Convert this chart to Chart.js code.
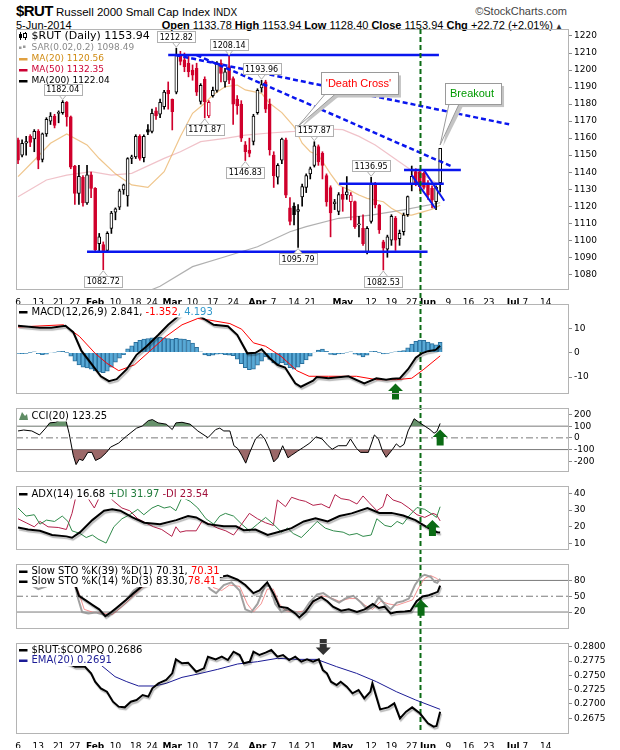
<!DOCTYPE html>
<html>
<head>
<meta charset="utf-8">
<script src="https://cdn.jsdelivr.net/npm/chart.js"></script>
<style>
  body { margin: 0; background: #fff; width: 620px; height: 750px; overflow: hidden; font-family: Arial, 'Liberation Sans', sans-serif; }
  .panel { position: absolute; left: 0; top: 0; }
  .hdr { position: absolute; white-space: nowrap; color: #000; }
</style>
</head>
<body>
<div class="hdr" style="left:16px;top:3px;font-size:11.5px;line-height:16px">
  <b style="font-size:15px;letter-spacing:-0.6px">$RUT</b> Russell 2000 Small Cap Index <span style="font-size:10px">INDX</span>
</div>
<div class="hdr" style="right:53px;top:4px;font-size:11px;line-height:14px;color:#444">&copy;StockCharts.com</div>
<div class="hdr" style="left:16px;top:18px;font-size:11px;line-height:14px">5-Jun-2014</div>
<div class="hdr" style="right:57px;top:18px;font-size:11px;line-height:14px"><b>Open</b> 1133.78 <b>High</b> 1153.94 <b>Low</b> 1128.40 <b>Close</b> 1153.94 <b>Chg</b> +22.72 (+2.01%)<span style="font-size:8px;color:#333"> &#9650;</span></div>

<canvas id="cMain" class="panel" width="620" height="750"></canvas>
<canvas id="cMacd" class="panel" width="620" height="750"></canvas>
<canvas id="cCci" class="panel" width="620" height="750"></canvas>
<canvas id="cAdx" class="panel" width="620" height="750"></canvas>
<canvas id="cSto" class="panel" width="620" height="750"></canvas>
<canvas id="cRatio" class="panel" width="620" height="750"></canvas>

<script>
// x axis: trading days from 6 Jan 2014 (index 0) to 21 Jul 2014 (index 135)
const tickIdx = [0, 5, 10, 14, 19, 24, 29, 33, 38, 43, 48, 53, 59, 63, 68, 72, 80, 87, 92, 97, 101, 106, 111, 116, 122, 125, 130];
const tickText = ['6', '13', '21', '27', 'Feb', '10', '18', '24', 'Mar', '10', '17', '24', 'Apr', '7', '14', '21', 'May', '12', '19', '27', 'Jun', '9', '16', '23', 'Jul', '7', '14'];

// daily candles, 6 Jan .. 5 Jun
const priorClose = 1156;
const opens = [1159, 1150, 1157, 1161, 1159.5, 1164, 1147.5, 1162.5, 1170, 1173,
  1174.5, 1175, 1181, 1172.5, 1143.5, 1127.5, 1137, 1122, 1138.5, 1130.5,
  1098, 1097.5, 1094, 1107, 1116.5, 1119.5, 1129.5, 1126, 1148, 1149,
  1161, 1148.5, 1165, 1164, 1176, 1174, 1178.5, 1188, 1182.8, 1187,
  1208, 1206, 1204, 1200, 1201, 1181.5, 1194.5, 1173, 1185, 1188,
  1204, 1193, 1202, 1195, 1183, 1180, 1156, 1153, 1158, 1175,
  1189.5, 1193, 1180, 1150, 1137, 1147, 1159, 1119, 1120, 1117,
  1125.5, 1131, 1139, 1144, 1155, 1151, 1138, 1131, 1121.5, 1117,
  1127, 1126.6, 1122.7, 1122.7, 1109, 1107, 1093, 1111, 1133.4, 1120.7,
  1099, 1094.7, 1100, 1113, 1101, 1105, 1115, 1133, 1140.3, 1140.3,
  1139.3, 1133.4, 1130.5, 1122.7, 1133.78];
const highs = [1160, 1159, 1161, 1162, 1165, 1165, 1163, 1172, 1175, 1174,
  1176, 1182.04, 1181.5, 1173, 1144, 1144, 1138, 1144, 1140, 1131,
  1104, 1099, 1105, 1117, 1119, 1130, 1133, 1148.5, 1150, 1162,
  1162, 1162, 1168, 1177, 1178, 1183, 1188, 1193, 1183, 1212.82,
  1211, 1210, 1208, 1203, 1204, 1192, 1196, 1182, 1190, 1205,
  1206, 1201, 1208.14, 1196, 1185, 1182, 1158, 1160, 1174, 1189,
  1193.96, 1194, 1183, 1152, 1145, 1160, 1160, 1125, 1122, 1121,
  1133, 1139, 1143, 1157.87, 1156, 1152, 1139, 1132, 1124, 1128,
  1131, 1137.4, 1128, 1123, 1114, 1115, 1108, 1136.95, 1134, 1121,
  1100, 1103, 1115, 1114, 1106, 1116, 1126, 1143.6, 1142, 1141,
  1140, 1135, 1132, 1132, 1153.94];
const lows = [1145, 1149, 1150, 1155, 1152, 1142, 1146, 1161, 1168, 1166,
  1169, 1174, 1167, 1142, 1121, 1121, 1120, 1121, 1125, 1093,
  1093, 1082.72, 1093, 1104, 1112, 1118, 1127, 1120, 1145, 1148,
  1147, 1146, 1162, 1163, 1171, 1172, 1177, 1177, 1164.8, 1186,
  1203, 1199, 1196, 1194, 1185, 1180, 1171.87, 1172, 1184, 1187,
  1193, 1190, 1192, 1168, 1174, 1158, 1146.83, 1149, 1156, 1174,
  1187, 1175, 1150, 1131, 1133, 1145, 1125, 1109, 1109, 1095.79,
  1120, 1128, 1136, 1143, 1144, 1136, 1120, 1102, 1118, 1115,
  1117, 1124, 1112, 1107, 1102, 1097, 1092, 1110, 1119, 1104,
  1082.53, 1090, 1097, 1094, 1097, 1103, 1114, 1129, 1132, 1129,
  1130, 1124, 1119, 1118, 1128.40];
const closes = [1147, 1157, 1158, 1157.5, 1164, 1147, 1162.5, 1171, 1173, 1167.5,
  1175, 1181, 1172.5, 1143, 1127.5, 1137.5, 1122, 1138.5, 1130.5, 1094.5,
  1102, 1093.6, 1104, 1116, 1118.5, 1129, 1132.5, 1148, 1149, 1161,
  1148, 1161, 1163.5, 1174.5, 1173, 1181, 1187, 1186, 1175.5, 1208.8,
  1205, 1202, 1199, 1197, 1187, 1191, 1181.4, 1181, 1188, 1204,
  1198, 1199, 1194, 1180, 1179, 1160, 1152, 1151, 1173, 1188,
  1191.5, 1177, 1153, 1138, 1144, 1159.5, 1126.5, 1111, 1115, 1118,
  1131.5, 1138, 1142, 1155.5, 1146, 1144, 1122.5, 1116, 1122.5, 1126.8,
  1124, 1128.5, 1126.6, 1108, 1109.3, 1098, 1107, 1133.4, 1120.7, 1106,
  1095.3, 1102, 1114, 1100, 1104, 1114.8, 1125.6, 1137.5, 1133.4, 1131.5,
  1131, 1126.6, 1123.6, 1131.22, 1153.94];

// moving averages, [day index, value]
const ma20 = [[0, 1137.4], [4, 1147], [8, 1157], [12, 1162.4], [17, 1156], [20, 1148], [24, 1139], [28, 1132.5], [32, 1131.1], [36, 1140.3],
  [40, 1160.9], [43, 1174.6], [46, 1180.5], [48, 1185.3], [51, 1190.2], [54, 1191.2], [56, 1188.3], [60, 1186.3], [62, 1180.5], [65, 1175],
  [68, 1166.7], [70, 1157], [72, 1152], [74, 1150], [77, 1139], [79, 1132.5], [82, 1129], [84, 1126.6], [86, 1124.6], [90, 1122.6],
  [92, 1118.8], [95, 1114.8], [97, 1114.8], [100, 1116.8], [102, 1118.2], [104, 1120.56]];
const ma50 = [[0, 1125.6], [7, 1135.4], [12, 1138.3], [18, 1140.3], [23, 1138.3], [28, 1139.3], [36, 1148.1], [40, 1152], [45, 1157.9], [51, 1159.9],
  [56, 1161.8], [62, 1163], [68, 1164], [74, 1165.5], [80, 1165], [84, 1161], [88, 1156], [91, 1151], [94, 1146], [97, 1141], [100, 1138], [104, 1132.35]];
const ma200 = [[30, 1068], [35, 1073], [43, 1084.5], [51, 1090.3], [59, 1096.2], [67, 1105], [71, 1108], [79, 1112.9], [87, 1114.8], [95, 1117.8], [104, 1122.04]];

// drawn trend lines on the price panel, [day index, price]
const resistLine = [[37, 1208.8], [103.7, 1208.8]];
const supportLine = [[17, 1093.3], [100.9, 1093.3]];
const trendUpper = [[38.8, 1208.8], [121, 1168.1]];
const trendLower = [[44, 1208.7], [107.2, 1143]];
const flagTop = [[95.1, 1141.3], [109.1, 1141.3]];
const flagMid = [[79.1, 1133.2], [104.9, 1133.2]];
const flagDiagA = [[97, 1138.3], [102.8, 1118.8]];
const flagDiagB = [[100, 1141.3], [105, 1123.2]];
const markerDay = 99;

// price callouts
const calloutIdx = [39, 52, 60, 11, 73, 87, 46, 56, 69, 21, 90];
const calloutVal = [1212.82, 1208.14, 1193.96, 1182.04, 1157.87, 1136.95, 1171.87, 1146.83, 1095.79, 1082.72, 1082.53];
const calloutUp = [true, true, true, true, true, true, false, false, false, false, false];

// MACD(12,26,9)
const macdLine = [[0, 11.0], [5.3, 10.2], [8.2, 10.2], [11.7, 11.0], [13.6, 8.4], [15.6, 0.8], [18, -4.4], [20.4, -9.7], [22.4, -11.7], [24.3, -10.9],
  [26.8, -6.8], [29.2, -0.9], [31.7, 2.6], [34.6, 7.3], [37, 11.4], [39.5, 14.9], [41.5, 17.5], [43, 17.8], [44.3, 15.4], [48.2, 11.4],
  [51.7, 10.8], [54, 7.3], [56.5, -0.3], [58.5, -0.1], [60, 1.4], [61.9, -2.1], [63.9, -5.0], [65.8, -6.1], [68.3, -12.6], [69.7, -14.0],
  [72.7, -11.5], [73.6, -10.0], [76.5, -10.5], [81.4, -9.7], [85.3, -12.6], [88.3, -10.5], [90.7, -11.1], [92.2, -10.7], [94.1, -10.5], [96.1, -6.8],
  [98, -2.1], [99.5, -0.3], [101, 0.6], [102.9, 1.1], [104, 2.84]];
const macdSignal = [[0, 10.5], [11.2, 11.4], [15.1, 6.7], [19, -0.3], [21.9, -4.4], [24.8, -7.4], [28.7, -5.0], [32.6, 0.8], [36.5, 6.7], [40.4, 11.4],
  [44.3, 14.0], [47.3, 13.3], [52.2, 11.9], [55.1, 9.6], [58, 4.0], [61, 2.6], [64.8, -1.5], [68.7, -7.4], [71.7, -9.7], [76.5, -9.7],
  [83.4, -9.7], [88.3, -11.1], [93.2, -11.1], [97, -10.5], [100, -6.8], [104, -1.35]];
const macdHist = [-0.3, -0.4, -0.3, 0.1, 0.3, -0.4, -0.8, -0.6, -0.2, 0.2,
  0.4, 0.5, 0.1, -1.5, -3.5, -5.0, -6.0, -6.3, -6.8, -7.5,
  -8.0, -8.2, -7.6, -6.0, -3.9, -2.3, -0.8, 1.5, 2.8, 4.2,
  5.0, 5.5, 5.8, 6.1, 6.2, 6.3, 6.1, 5.8, 5.5, 5.9,
  5.7, 5.5, 5.0, 3.9, 2.2, 0.3, -0.9, -1.4, -1.0, -0.6,
  -0.5, -0.8, -1.0, -1.3, -2.7, -4.5, -6.2, -7.0, -6.8, -5.2,
  -3.5, -1.8, -2.8, -4.2, -4.6, -4.2, -5.0, -6.2, -6.8, -6.0,
  -4.5, -3.0, -1.5, -0.2, 1.0, 1.4, 0.5, -0.7, -0.9, -0.5,
  -0.3, 0.2, 0.3, -0.6, -1.1, -1.8, -1.0, 0.4, 0.5, 0.1,
  -0.5, -0.3, 0.2, 0.3, 0.6, 0.8, 2.0, 3.5, 4.6, 5.1,
  5.0, 4.3, 3.7, 3.2, 4.2];

// CCI(20)
const cci = [[0, 59], [1.4, 67], [3.4, 59], [5.3, 25], [6.8, 83], [7.8, 128], [9.2, 133], [10.7, 156], [11.7, 163], [12.6, 37],
  [13.6, -148], [14.3, -228], [15.1, -182], [16, -193], [17.2, -124], [18.2, -124], [19.1, -193], [20.4, -170], [21.8, -124], [22.8, -79],
  [24.8, -44], [26.7, 14], [29.2, 83], [30.6, 101], [32.1, 147], [33.1, 156], [34.5, 128], [36.5, 117], [38, 71], [38.9, 128],
  [40.4, 133], [42.4, 117], [44.3, 59], [46.8, 2], [48.7, 71], [49.7, 83], [50.7, 59], [52.2, 59], [53.2, -67], [54.1, -90],
  [55.1, -148], [56.1, -216], [57.1, -124], [58.5, -9], [59.8, 32], [60.8, -9], [62, -101], [63, -205], [64, -170], [65.2, -67],
  [66.5, -170], [67.4, -148], [68.9, -113], [70.4, -79], [71.9, -44], [73.4, 9], [74.9, -9], [76.4, -67], [77.4, -97], [78.9, -67],
  [80.9, -67], [81.9, -9], [83.4, -90], [84.4, -124], [86.3, -124], [87.8, 25], [88.8, -9], [89.8, -113], [90.7, -166], [92.2, -101],
  [93.2, -51], [94.1, -79], [95.1, -55], [96.1, 59], [97.6, 163], [99, 128], [100.5, 94], [101.5, 71], [102.5, 40], [103.2, 55], [104, 123]];

// ADX(14), +DI, -DI
const adx = [[0, 19.6], [2.5, 18.4], [5.4, 17.6], [8.4, 15.1], [11.9, 14.3], [13.3, 13.5], [15.3, 16.8], [18.3, 24], [21.2, 29.6], [23.2, 30.4],
  [25.2, 29.6], [28.2, 25.6], [31.1, 22.4], [35, 21.6], [39, 24], [41.9, 26.4], [43.9, 25.6], [46.8, 21.6], [50.7, 20.3], [53.7, 20.3],
  [55.6, 18], [58.5, 18.4], [61.5, 15.1], [64.4, 17.1], [67.4, 19.2], [70.4, 23.2], [73.3, 25.1], [76.3, 23.2], [79.2, 26.4], [82.2, 28],
  [86.1, 31.2], [89, 28.3], [92, 28.3], [94.9, 26.7], [97.9, 24], [99.8, 21.2], [101.8, 18.4], [103.3, 16.8], [104, 16.68]];
const plusDI = [[0, 31.2], [2, 26.4], [4, 27.2], [5.4, 21.6], [7, 24], [9, 23.2], [10.9, 26.4], [12.3, 23.2], [13.3, 17.6], [15.3, 16],
  [16.8, 13.6], [18.3, 15.1], [19.7, 12.7], [21.7, 10.3], [23.6, 20], [25.6, 24.8], [27.5, 27.2], [29.5, 30.4], [31, 27.2], [33, 31.2],
  [34.5, 32.8], [36, 31.2], [37.5, 32], [38.9, 29.6], [40.4, 37.6], [42.4, 35.2], [44.3, 31.2], [46.3, 24.8], [48.2, 21.6], [49.7, 26.4],
  [51.1, 28], [53.1, 26.4], [55.1, 21.6], [57, 17.6], [59, 21.6], [61, 25.6], [62.9, 21.6], [64.9, 16.8], [66.4, 19.2], [67.8, 16],
  [69.8, 13.6], [71.8, 18.4], [73.7, 23.2], [75.7, 19.2], [77.7, 17.6], [80.1, 16.8], [81.6, 15.1], [83.5, 16], [85, 14.3], [87, 15.1],
  [88.4, 24.8], [90.4, 20.8], [91.9, 20], [93.4, 23.2], [94.8, 21.6], [96.3, 26.4], [98.3, 31.5], [100.2, 30.4], [102.2, 27.2], [103.1, 25.6], [104, 31.97]];
const minusDI = [[0, 24.8], [2, 22.4], [4, 20], [5.4, 23.2], [7.4, 20], [9.9, 19.6], [11.9, 18.4], [13.3, 28], [14.3, 38.4], [15.8, 37.6],
  [17.3, 36.8], [18.8, 31.2], [20.2, 38.4], [21.9, 39.2], [23.6, 35.2], [25.6, 31.2], [27.5, 29.6], [29.5, 24.8], [31.4, 22.4], [33.4, 20],
  [35.4, 18.4], [37.9, 14.3], [38.9, 20], [39.9, 16.8], [41.4, 17.6], [43.9, 17.6], [45.3, 23.2], [47.3, 21.6], [49.2, 19.2], [51.2, 17.6],
  [53.1, 15.1], [55.1, 21.6], [57, 28], [59, 24.8], [61, 22.4], [62.9, 20.8], [63.9, 36], [65.9, 32], [67.4, 37.6], [69.3, 36],
  [70.8, 35.2], [72.7, 32.8], [74.7, 33.6], [76.7, 31.2], [78.1, 39.2], [79.6, 36.8], [81.6, 36], [83.5, 33.6], [85, 38.4], [86.5, 34.4],
  [88.4, 29.6], [89.9, 32], [90.9, 39.5], [92.4, 36], [94.4, 34.4], [96.3, 31.2], [98.3, 27.2], [100.2, 25.6], [102.2, 28], [103.1, 27.2], [104, 23.54]];

// slow stochastics
const sto39K = [[0, 88], [6, 90], [11, 92], [13.5, 85], [15, 50.8], [16.5, 43], [18.5, 32.8], [20, 25.1], [21.5, 12.3], [23, 20],
  [24.6, 30.2], [26.6, 43], [28.5, 55.9], [30.5, 68.7], [32, 73.8], [33.4, 76.4], [38, 85], [42, 90], [46.3, 79], [47.8, 76.4],
  [49.7, 86.6], [51.6, 89.2], [54.1, 81.5], [56, 71.3], [58, 55.9], [59.5, 61], [61.4, 76.4], [62.9, 55.9], [64.4, 30.2], [66.4, 27.7],
  [68.3, 17.4], [69.3, 9.7], [70.8, 20], [72.7, 40.5], [74.7, 48.2], [76.2, 40.5], [77.6, 30.2], [79.6, 22.5], [81.5, 25.1], [83.5, 20],
  [85.4, 25.1], [87.4, 35.4], [88.9, 27.7], [90.3, 30.2], [91.8, 17.4], [93.3, 20], [95.3, 21], [96.7, 22.5], [98.2, 40.5], [99.7, 49.7],
  [101.2, 51.8], [102.6, 55.9], [103.4, 58.4], [104, 70.31]];
const sto14K = [[0, 76.4], [2, 76.4], [5, 63.6], [7, 68.7], [8, 76.4], [11, 85], [13.7, 81.5], [14.8, 45.6], [15.8, 20], [17.3, 17.4],
  [19.2, 19], [21.2, 14.9], [22.2, 12.3], [24.1, 25.1], [26.6, 43], [28.5, 61], [30.5, 71.3], [32, 73.8], [38, 88], [42, 86],
  [45.8, 81.5], [47.3, 63.6], [48.8, 55.9], [50.7, 71.3], [52.6, 76.4], [54.6, 61], [56, 25.1], [57.5, 20], [59, 35.4], [60.9, 71.3],
  [62, 68.7], [63.4, 35.4], [64.9, 20], [66.4, 25.1], [68.3, 20], [69.8, 14.9], [71.8, 38], [73.7, 53.3], [75.2, 55.9], [77.2, 45.6],
  [79.1, 38], [80.6, 45.6], [82.6, 50.8], [84.5, 38], [86, 25.1], [87.4, 30.2], [88.9, 48.2], [90.3, 35.4], [91.8, 25.1], [93.3, 38],
  [94.8, 40.5], [96.3, 45.6], [97.8, 71.3], [99.2, 86.6], [100.2, 90.8], [101.7, 86.6], [102.6, 77.4], [103.3, 75.4], [104, 83.3]];
const sto14D = [[0, 79], [4, 71.3], [8, 71.3], [12, 80], [14.8, 61], [16.3, 25.1], [18.3, 20], [21.2, 17.4], [23.2, 14.9], [25.6, 30.2],
  [28.1, 48.2], [30.5, 66.2], [32.4, 73.8], [40, 85], [46.8, 79], [48.2, 66.2], [50.2, 61], [52.1, 71.3], [54.6, 68.7], [56.5, 35.4],
  [58, 20], [59.9, 35.4], [61.4, 63.6], [62.9, 63.6], [64.4, 35.4], [65.9, 22.5], [68.8, 20], [70.8, 22.5], [72.7, 38], [74.7, 50.8],
  [76.7, 48.2], [79.1, 40.5], [81.6, 45.6], [83.5, 45.6], [85.5, 32.8], [87.4, 25.1], [89.4, 40.5], [91.3, 35.4], [93.3, 32.8], [95.3, 38],
  [97.2, 43], [98.7, 66.2], [100.2, 84], [101.7, 89.2], [103.1, 84], [104, 78.41]];

// $RUT:$COMPQ ratio and its EMA(20)
const ratio = [[0, 0.2775], [6, 0.2778], [12, 0.2772], [14.1, 0.2765], [16.5, 0.2765], [18, 0.27535], [19, 0.27389], [20.4, 0.27273], [21.9, 0.27215], [23.4, 0.2704],
  [24.8, 0.26953], [26.3, 0.26941], [27.8, 0.2704], [29.2, 0.27069], [30.7, 0.27157], [32.1, 0.27128], [33.1, 0.27273], [34.6, 0.2736], [36.5, 0.27419], [38, 0.27535],
  [38.9, 0.27779], [40.4, 0.2771], [41.9, 0.27721], [43.9, 0.27564], [45.8, 0.27622], [46.8, 0.27826], [48.7, 0.27779], [50.2, 0.27826], [51.7, 0.27768], [53.1, 0.27913],
  [54.6, 0.27855], [55.6, 0.2771], [57.1, 0.27739], [58, 0.27913], [59.5, 0.27855], [61, 0.27896], [62.4, 0.27942], [63.9, 0.27826], [65.3, 0.27855], [66.8, 0.27768],
  [68.3, 0.27826], [69.8, 0.27739], [71.2, 0.27779], [72.7, 0.27739], [74.1, 0.27779], [75.1, 0.27593], [76.1, 0.27535], [77.1, 0.27389], [78.5, 0.27331], [79.5, 0.27389],
  [81, 0.27302], [82.4, 0.27186], [83.9, 0.27244], [85.3, 0.27099], [86.8, 0.27215], [87.3, 0.2736], [89.2, 0.26906], [91.2, 0.26941], [92.7, 0.27011], [94.1, 0.26749],
  [95.6, 0.26866], [97.1, 0.26941], [99, 0.26837], [101, 0.26662], [102.4, 0.26604], [103.1, 0.26616], [104, 0.26866]];
const ratioEma = [[0, 0.2775], [10, 0.2778], [17, 0.2772], [20.4, 0.27681], [23.9, 0.27477], [26.8, 0.27389], [29.7, 0.27314], [33.6, 0.27314], [36.5, 0.2736], [40.4, 0.27465],
  [44.3, 0.27523], [49.2, 0.27605], [54.1, 0.27698], [59, 0.27739], [63.9, 0.27797], [68.8, 0.27779], [73.6, 0.27779], [78.5, 0.27651], [83.4, 0.27535], [88.3, 0.27389],
  [93.2, 0.27215], [98, 0.27069], [104, 0.26906]];

// signal arrows, [day index, value]
const macdArrow = [93, -12.7];
const cciArrow = [104, 71];
const adxArrow = [102.1, 24.1];
const stoArrow = [99.3, 43.5];
const ratioArrow = [75.2, 0.27855];

const FONT = "'DejaVu Sans', Verdana, sans-serif";
const RED = '#d0002c';
const BLUE = '#0a16ee';
const GREEN = '#0b6b14';
Chart.defaults.font.family = FONT;
Chart.defaults.font.size = 9;
Chart.defaults.color = '#000';

const pts = pairs => pairs.map(([x, y]) => ({x, y}));
const across = v => [{x: -0.5, y: v}, {x: 135.5, y: v}];
const lineSet = (pairs, color, width, order, extra = {}) => ({
  type: 'line', data: pts(pairs), borderColor: color, borderWidth: width,
  pointRadius: 0, tension: 0, fill: false, order, ...extra
});
const refLine = (v, dash) => ({
  type: 'line', data: across(v), borderColor: '#7a7a7a', borderWidth: 1,
  borderDash: dash || [], pointRadius: 0, fill: false, order: 5
});

// panel options: chart area fixed by padding so all panels line up
function panelOptions(top, bottom, yMin, yMax, yTicks, fmt, showX) {
  return {
    responsive: false, animation: false, events: [],
    layout: {padding: {left: 16, right: 0, top, bottom}},
    plugins: {legend: {display: false}, tooltip: {enabled: false}},
    scales: {
      x: {
        type: 'linear', min: -0.5, max: 135.5, offset: false, display: showX,
        afterBuildTicks: s => { s.ticks = tickIdx.map(v => ({value: v})); },
        afterFit: s => { s.height = 15; },
        grid: {display: false}, border: {display: false},
        ticks: {
          autoSkip: false, maxRotation: 0, padding: 0, color: '#000',
          callback: v => tickText[tickIdx.indexOf(v)],
          font: c => ({size: 9, weight: c.tick && /[A-Z]/.test(tickText[tickIdx.indexOf(c.tick.value)]) ? 'bold' : 'normal'})
        }
      },
      y: {
        position: 'right', min: yMin, max: yMax,
        afterBuildTicks: s => { s.ticks = yTicks.map(v => ({value: v})); },
        afterFit: s => { s.width = 52; },
        grid: {drawOnChartArea: false, drawTicks: true, tickLength: 4, color: '#8a8a8a'},
        border: {display: false},
        ticks: {padding: 2, color: '#000', font: {size: 9}, callback: fmt}
      }
    }
  };
}

Chart.register({
  id: 'panelBox',
  afterDraw(chart) {
    const {ctx, chartArea: a} = chart;
    ctx.save();
    ctx.strokeStyle = '#b4b4b4';
    ctx.lineWidth = 1;
    ctx.strokeRect(Math.round(a.left) + 0.5, Math.round(a.top) + 0.5, Math.round(a.right - a.left), Math.round(a.bottom - a.top));
    ctx.restore();
  }
});

Chart.register({
  id: 'lineShadow',
  beforeDatasetDraw(chart, args) {
    if (!chart.data.datasets[args.index].shadow) return;
    const ctx = chart.ctx;
    ctx.save();
    ctx.shadowColor = 'rgba(0,0,0,0.28)';
    ctx.shadowOffsetX = 1;
    ctx.shadowOffsetY = 2;
    ctx.shadowBlur = 1;
  },
  afterDatasetDraw(chart, args) {
    if (chart.data.datasets[args.index].shadow) chart.ctx.restore();
  }
});

function drawIcon(ctx, kind, x0, cy, color) {
  ctx.fillStyle = color;
  if (kind === 'dash') {
    ctx.fillRect(x0, cy - 1, 8.5, 2.5);
  } else if (kind === 'candle') {
    ctx.fillRect(x0 + 1, cy - 4, 1, 8);
    ctx.fillRect(x0, cy - 2, 3, 4);
    ctx.fillRect(x0 + 6, cy - 4, 1, 8);
    ctx.strokeStyle = color;
    ctx.lineWidth = 1;
    ctx.fillStyle = '#fff';
    ctx.fillRect(x0 + 4.5, cy - 2.5, 3, 4);
    ctx.strokeRect(x0 + 4.5, cy - 2.5, 3, 4);
  } else if (kind === 'sar') {
    ctx.fillRect(x0, cy - 1, 2.5, 2.5);
    ctx.fillRect(x0 + 4, cy - 2, 2.5, 2.5);
  } else if (kind === 'area') {
    ctx.beginPath();
    ctx.moveTo(x0, cy + 4);
    ctx.lineTo(x0 + 3, cy - 4);
    ctx.lineTo(x0 + 6, cy);
    ctx.lineTo(x0 + 8, cy - 2);
    ctx.lineTo(x0 + 9, cy + 4);
    ctx.closePath();
    ctx.fill();
  }
}

function drawArrow(ctx, px, py, dir, color) {
  const s = dir === 'up' ? 1 : -1;
  ctx.fillStyle = color;
  ctx.beginPath();
  ctx.moveTo(px, py);
  ctx.lineTo(px + 7.5, py + s * 7.5);
  ctx.lineTo(px + 3.5, py + s * 7.5);
  ctx.lineTo(px + 3.5, py + s * 16);
  ctx.lineTo(px - 3.5, py + s * 16);
  ctx.lineTo(px - 3.5, py + s * 7.5);
  ctx.lineTo(px - 7.5, py + s * 7.5);
  ctx.closePath();
  ctx.fill();
}

// legend rows and arrows drawn over each panel
function decor(rows, arrows) {
  return {
    id: 'decor',
    afterDatasetsDraw(chart) {
      const {ctx, chartArea: a, scales: {x, y}} = chart;
      ctx.save();
      ctx.textBaseline = 'middle';
      rows.forEach(r => {
        ctx.font = r.font || `10px ${FONT}`;
        const cy = a.top + r.dy;
        const w = r.parts.reduce((s, p) => s + ctx.measureText(p[0]).width, 0);
        ctx.fillStyle = '#fff';
        ctx.fillRect(a.left + 1, cy - 5.5, w + 18, 11);
        drawIcon(ctx, r.icon, a.left + 3, cy, r.iconColor || '#000');
        let tx = a.left + 15.5;
        r.parts.forEach(([t, c]) => {
          ctx.fillStyle = c;
          ctx.fillText(t, tx, cy);
          tx += ctx.measureText(t).width;
        });
      });
      arrows.forEach(([i, v, dir, col]) => drawArrow(ctx, x.getPixelForValue(i), y.getPixelForValue(v), dir, col));
      ctx.restore();
    }
  };
}

// price callouts, notes and the vertical marker
const mainDeco = {
  id: 'mainDeco',
  afterDatasetsDraw(chart) {
    const {ctx, scales: {x, y}} = chart;
    ctx.save();
    ctx.font = `8px ${FONT}`;
    ctx.textBaseline = 'middle';
    ctx.textAlign = 'center';
    calloutIdx.forEach((i, k) => {
      const px = x.getPixelForValue(i), py = y.getPixelForValue(calloutVal[k]);
      const t = calloutVal[k].toFixed(2);
      const w = ctx.measureText(t).width + 5, h = 11;
      const up = calloutUp[k];
      const by = up ? py - 6 - h : py + 6;
      const edge = up ? by + h : by;
      ctx.fillStyle = '#fff';
      ctx.strokeStyle = '#b0b0b0';
      ctx.lineWidth = 1;
      ctx.beginPath();
      ctx.moveTo(px - 4, edge);
      ctx.lineTo(px, up ? py - 1 : py + 1);
      ctx.lineTo(px + 4, edge);
      ctx.fill();
      ctx.stroke();
      ctx.fillRect(Math.round(px - w / 2) + 0.5, Math.round(by) + 0.5, Math.round(w), h);
      ctx.strokeRect(Math.round(px - w / 2) + 0.5, Math.round(by) + 0.5, Math.round(w), h);
      ctx.fillStyle = '#000';
      ctx.fillText(t, px, by + h / 2 + 1);
    });

    const notes = [
      {text: "'Death Cross'", color: '#ff0000', box: [74.6, 1198.6, 93.6, 1185.6], tip: [68.9, 1166.7]},
      {text: 'Breakout', color: '#009a00', box: [105.2, 1192.4, 119, 1180], tip: [104, 1156]}
    ];
    ctx.font = `11px Arial, 'Liberation Sans', sans-serif`;
    ctx.textAlign = 'left';
    notes.forEach(n => {
      const l = x.getPixelForValue(n.box[0]), t = y.getPixelForValue(n.box[1]);
      const r = x.getPixelForValue(n.box[2]), b = y.getPixelForValue(n.box[3]);
      const tx = x.getPixelForValue(n.tip[0]), ty = y.getPixelForValue(n.tip[1]);
      ctx.fillStyle = '#c4c4c4';
      ctx.fillRect(l + 3, t + 3, r - l, b - t);
      ctx.beginPath();
      ctx.moveTo(l + 6, b + 2);
      ctx.lineTo(tx + 3, ty + 1);
      ctx.lineTo(l + 18, b + 2);
      ctx.fill();
      ctx.fillStyle = '#fff';
      ctx.strokeStyle = '#9a9a9a';
      ctx.beginPath();
      ctx.moveTo(l + 4, b);
      ctx.lineTo(tx, ty);
      ctx.lineTo(l + 14, b);
      ctx.closePath();
      ctx.fill();
      ctx.stroke();
      ctx.fillRect(Math.round(l) + 0.5, Math.round(t) + 0.5, Math.round(r - l), Math.round(b - t));
      ctx.strokeRect(Math.round(l) + 0.5, Math.round(t) + 0.5, Math.round(r - l), Math.round(b - t));
      ctx.fillStyle = n.color;
      ctx.fillText(n.text, l + 5, (t + b) / 2);
    });
    ctx.restore();
  },
  afterDraw(chart) {
    const {ctx, chartArea: a, scales: {x}} = chart;
    const px = Math.round(x.getPixelForValue(markerDay)) + 0.5;
    ctx.save();
    ctx.strokeStyle = GREEN;
    ctx.lineWidth = 2;
    ctx.setLineDash([5, 3]);
    ctx.beginPath();
    ctx.moveTo(px, a.top);
    ctx.lineTo(px, 733);
    ctx.stroke();
    ctx.restore();
  }
};

// ---- price panel
const candleCol = closes.map((c, i) => c < (i ? closes[i - 1] : priorClose) ? RED : '#000');
new Chart(document.getElementById('cMain'), {
  type: 'bar',
  data: {
    datasets: [
      {type: 'bar', data: opens.map((o, i) => ({x: i, y: [o, closes[i]]})),
        backgroundColor: opens.map((o, i) => closes[i] < o ? candleCol[i] : '#fff'),
        borderColor: candleCol, borderWidth: 1, borderSkipped: false, barThickness: 3, minBarLength: 1, grouped: false, order: 0},
      {type: 'bar', data: highs.map((h, i) => ({x: i, y: [lows[i], h]})),
        backgroundColor: candleCol, borderWidth: 0, barThickness: 1, grouped: false, order: 1},
      lineSet(ma20, 'rgba(232,172,90,0.7)', 1.2, 3),
      lineSet(ma50, 'rgba(222,120,135,0.45)', 1.2, 3),
      lineSet(ma200, 'rgba(150,150,150,0.75)', 1.2, 3),
      lineSet(resistLine, BLUE, 2.5, -1),
      lineSet(supportLine, BLUE, 2.5, -1),
      lineSet(trendUpper, BLUE, 2.5, -1, {borderDash: [5, 3]}),
      lineSet(trendLower, BLUE, 2.5, -1, {borderDash: [5, 3]}),
      lineSet(flagTop, BLUE, 2.5, -1),
      lineSet(flagMid, BLUE, 2.5, -1),
      lineSet(flagDiagA, BLUE, 2, -1),
      lineSet(flagDiagB, BLUE, 2, -1)
    ]
  },
  options: panelOptions(29, 750 - 289 - 15, 1071.36, 1224.1,
    [1080, 1090, 1100, 1110, 1120, 1130, 1140, 1150, 1160, 1170, 1180, 1190, 1200, 1210, 1220], v => String(v), true),
  plugins: [decor([
    {dy: 7, icon: 'candle', font: `11px ${FONT}`, parts: [['$RUT (Daily) 1153.94', '#000']]},
    {dy: 18.5, icon: 'sar', iconColor: '#9a9a9a', font: `9px ${FONT}`, parts: [['SAR(0.02,0.2) 1098.49', '#8a8a8a']]},
    {dy: 30, icon: 'dash', iconColor: '#e0a040', font: `9px ${FONT}`, parts: [['MA(20) 1120.56', '#d08a10']]},
    {dy: 41, icon: 'dash', iconColor: '#cc0033', font: `9px ${FONT}`, parts: [['MA(50) 1132.35', '#cc0033']]},
    {dy: 52, icon: 'dash', iconColor: '#000', font: `9px ${FONT}`, parts: [['MA(200) 1122.04', '#000']]}
  ], []), mainDeco]
});

// ---- MACD
new Chart(document.getElementById('cMacd'), {
  type: 'bar',
  data: {
    datasets: [
      {type: 'bar', data: macdHist.map((v, i) => ({x: i, y: v})), backgroundColor: '#58a9d6',
        borderColor: '#2a6f9c', borderWidth: 1, barThickness: 4, grouped: false, order: 3},
      lineSet(macdSignal, '#ff0000', 1, 1),
      lineSet(macdLine, '#000', 2, 0, {shadow: true})
    ]
  },
  options: panelOptions(304, 750 - 408, -16.56, 19.93, [-10, 0, 10], v => String(v), false),
  plugins: [decor([
    {dy: 8, icon: 'dash', parts: [['MACD(12,26,9) 2.841,', '#000'], [' -1.352', '#ff0000'], [', 4.193', '#3399cc']]}
  ], [[...macdArrow, 'up', GREEN]])]
});

// ---- CCI
new Chart(document.getElementById('cCci'), {
  type: 'line',
  data: {
    datasets: [
      refLine(100), refLine(-100), refLine(0, [7, 3, 2, 3]),
      lineSet(cci, 'rgba(0,0,0,0)', 0, 2, {fill: {target: {value: -100}, above: 'rgba(0,0,0,0)', below: 'rgba(150,96,96,0.95)'}}),
      lineSet(cci, '#000', 1, 1, {fill: {target: {value: 100}, above: 'rgba(96,140,100,0.95)', below: 'rgba(0,0,0,0)'}})
    ]
  },
  options: panelOptions(408, 750 - 486, -282.8, 255, [-200, -100, 0, 100, 200], v => String(v), false),
  plugins: [decor([
    {dy: 8, icon: 'area', iconColor: '#5f8c64', parts: [['CCI(20) 123.25', '#000']]}
  ], [[...cciArrow, 'up', GREEN]])]
});

// ---- ADX
new Chart(document.getElementById('cAdx'), {
  type: 'line',
  data: {
    datasets: [
      lineSet(plusDI, '#2f8a4a', 1, 2),
      lineSet(minusDI, '#b3204a', 1, 2),
      lineSet(adx, '#000', 2, 0, {shadow: true})
    ]
  },
  options: panelOptions(486, 750 - 564, 6.77, 44.33, [10, 20, 30, 40], v => String(v), false),
  plugins: [decor([
    {dy: 8, icon: 'dash', parts: [['ADX(14) 16.68 ', '#000'], ['+DI 31.97 ', '#1f7a3a'], ['-DI 23.54', '#a0103a']]}
  ], [[...adxArrow, 'up', GREEN]])]
});

// ---- Slow stochastics
new Chart(document.getElementById('cSto'), {
  type: 'line',
  data: {
    datasets: [
      refLine(80), refLine(20), refLine(50, [7, 3, 2, 3]),
      lineSet(sto14D, 'rgba(240,120,120,0.8)', 1, 2),
      lineSet(sto14K, 'rgba(150,150,150,0.9)', 2, 1),
      lineSet(sto39K, '#000', 2, 0, {shadow: true})
    ]
  },
  options: panelOptions(564, 750 - 643, -10.3, 111.2, [20, 50, 80], v => String(v), false),
  plugins: [decor([
    {dy: 7.5, icon: 'dash', parts: [['Slow STO %K(39) %D(1) 70.31, ', '#000'], ['70.31', '#ff0000']]},
    {dy: 17.5, icon: 'dash', parts: [['Slow STO %K(14) %D(3) 83.30,', '#000'], ['78.41', '#ff0000']]}
  ], [[...stoArrow, 'up', GREEN]])]
});

// ---- $RUT:$COMPQ
new Chart(document.getElementById('cRatio'), {
  type: 'line',
  data: {
    datasets: [
      lineSet(ratioEma, '#1c1c96', 1, 1),
      lineSet(ratio, '#000', 2, 0, {shadow: true})
    ]
  },
  options: panelOptions(643, 750 - 733 - 15, 0.26493, 0.28065,
    [0.2675, 0.27, 0.2725, 0.275, 0.2775, 0.28], v => v.toFixed(4), true),
  plugins: [decor([
    {dy: 7, icon: 'dash', parts: [['$RUT:$COMPQ 0.2686', '#000']]},
    {dy: 17.5, icon: 'dash', iconColor: '#1c1c96', parts: [['EMA(20) 0.2691', '#1c1c96']]}
  ], [[...ratioArrow, 'down', '#333']])]
});
</script>
</body>
</html>
